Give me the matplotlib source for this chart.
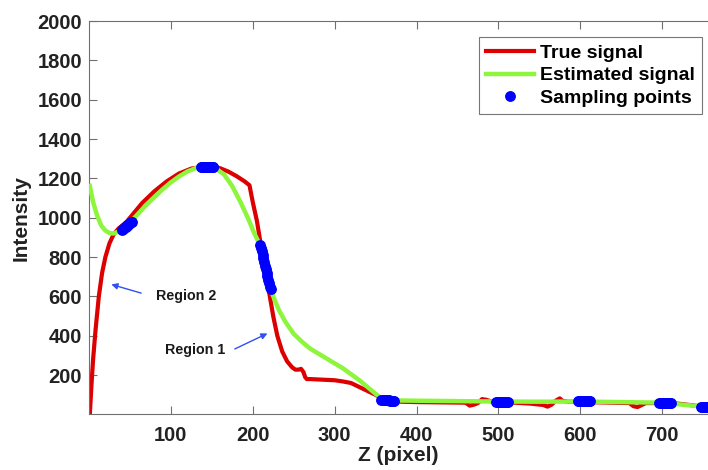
import matplotlib
matplotlib.use("Agg")
import matplotlib.pyplot as plt

# true signal (red)
true_z = [1, 3, 5, 8, 12, 16, 20, 25, 30, 36, 45, 55, 65, 80, 95, 110, 125, 140,
          150, 160, 170, 180, 190, 196, 200, 205, 210, 215, 220, 225, 230, 236,
          242, 248, 252, 256, 259, 262, 264, 266, 270, 280, 290, 300, 310, 320,
          330, 340, 350, 358, 365, 380, 400, 420, 440, 460, 465, 470, 475, 480,
          485, 490, 500, 520, 540, 555, 560, 565, 570, 575, 578, 585, 600, 620,
          640, 660, 665, 670, 675, 680, 700, 720, 740, 756]
true_i = [0, 150, 280, 430, 600, 720, 800, 870, 915, 945, 975, 1025, 1075, 1135,
          1185, 1225, 1250, 1260, 1262, 1252, 1235, 1212, 1185, 1165, 1080, 985,
          860, 740, 620, 500, 400, 320, 270, 240, 228, 228, 232, 215, 190, 180,
          180, 178, 176, 174, 168, 160, 140, 120, 100, 80, 68, 65, 63, 62, 61,
          60, 45, 50, 58, 78, 75, 68, 62, 60, 55, 48, 40, 50, 70, 82, 70, 65, 64,
          62, 60, 58, 42, 38, 48, 58, 58, 55, 45, 38]

# estimated signal (green)
est_z = [1, 5, 10, 15, 20, 25, 30, 35, 40, 50, 60, 70, 80, 90, 100, 110, 120,
         130, 140, 148, 155, 165, 175, 185, 195, 202, 209, 215, 221, 226, 232,
         240, 250, 260, 270, 280, 290, 300, 310, 320, 330, 340, 350, 358, 365,
         400, 450, 500, 550, 600, 650, 700, 720, 740, 756]
est_i = [1162, 1080, 1010, 960, 935, 922, 920, 928, 940, 975, 1020, 1065, 1105,
         1145, 1180, 1210, 1235, 1252, 1260, 1260, 1250, 1220, 1160, 1080, 990,
         920, 860, 755, 645, 590, 530, 470, 410, 370, 335, 310, 285, 260, 235,
         205, 175, 140, 105, 78, 72, 70, 68, 66, 65, 66, 63, 60, 52, 44, 38]

# sampling points (blue)
samp_z = [40, 41, 42, 43, 44, 45, 46, 47, 48, 49, 50, 51, 52,
          137, 138, 140, 142, 143, 145, 146, 148, 149, 151, 152,
          209, 210, 211, 212, 213, 214, 215, 216, 217, 218, 219, 220, 221, 222,
          357, 359, 360, 362, 363, 365, 366, 368, 369, 371, 372,
          497, 499, 500, 502, 503, 505, 506, 508, 509, 511, 512,
          597, 599, 600, 602, 603, 605, 606, 608, 609, 611, 612,
          696, 698, 699, 701, 702, 704, 705, 707, 708, 710, 711,
          747, 749, 750, 752, 753, 755, 756]
samp_i = [938, 942, 945, 949, 952, 955, 958, 962, 965, 969, 972, 976, 980,
          1257, 1258, 1259, 1260, 1260, 1260, 1260, 1259, 1259, 1257, 1256,
          862, 846, 830, 813, 795, 776, 757, 738, 720, 702, 684, 667, 650, 640,
          75, 74, 73, 73, 72, 72, 72, 71, 71, 71, 71,
          66, 66, 66, 66, 65, 65, 65, 65, 65, 65, 65,
          67, 67, 67, 67, 67, 67, 67, 67, 67, 67, 67,
          60, 60, 60, 60, 60, 60, 60, 59, 59, 59, 59,
          40, 40, 39, 39, 38, 38, 38]

xticks = [100, 200, 300, 400, 500, 600, 700]
yticks = [200, 400, 600, 800, 1000, 1200, 1400, 1600, 1800, 2000]

plt.rcParams["font.family"] = ["Liberation Sans", "DejaVu Sans"]
plt.rcParams["font.weight"] = "bold"

fig = plt.figure(figsize=(7.08, 4.70), dpi=100)
ax = fig.add_axes([0.1257, 0.1181, 0.8743, 0.8372])

ax.plot(true_z, true_i, color="#dc0000", lw=3.0, label="True signal", zorder=2)
ax.plot(est_z, est_i, color="#8cf53c", lw=3.2, label="Estimated signal", zorder=3)
ax.plot(samp_z, samp_i, "o", color="#0000ff", ms=6.8, mec="#0000ff",
        label="Sampling points", zorder=4, clip_on=False)

ax.set_xlim(0, 756)
ax.set_ylim(0, 2000)
ax.set_xticks(xticks)
ax.set_yticks(yticks)

for s in ["left", "bottom", "top"]:
    ax.spines[s].set_color("#707070")
    ax.spines[s].set_linewidth(0.8)
ax.spines["right"].set_visible(False)
ax.tick_params(direction="in", length=6, width=0.8, color="#707070",
               top=True, right=False, labelsize=14.5, labelcolor="#222222")
ax.tick_params(axis="x", pad=8)
ax.tick_params(axis="y", pad=5)
for lab in ax.get_xticklabels() + ax.get_yticklabels():
    lab.set_fontweight("bold")

ax.set_xlabel("Z (pixel)", fontsize=15, fontweight="bold", color="#222222", labelpad=1)
ax.set_ylabel("Intensity", fontsize=15, fontweight="bold", color="#222222", labelpad=5)

arrow = dict(arrowstyle="-|>", color="#3050f0", lw=1.0, mutation_scale=9)
ax.annotate("", xy=(24, 665), xytext=(67, 613), arrowprops=arrow)
ax.text(81.5, 601, "Region 2", fontsize=10.3, fontweight="bold", va="center",
        color="#1a1a1a")
ax.annotate("", xy=(221, 418), xytext=(175, 327), arrowprops=arrow)
ax.text(92.5, 327, "Region 1", fontsize=10.3, fontweight="bold", va="center",
        color="#1a1a1a")

leg = ax.legend(loc="upper right", bbox_to_anchor=(0.990, 0.959), fontsize=14,
                frameon=True, fancybox=False, edgecolor="#555555",
                handlelength=2.5, handletextpad=0.3, borderpad=0.35,
                labelspacing=0.27, borderaxespad=0)
leg.get_frame().set_linewidth(0.8)
for t in leg.get_texts():
    t.set_fontweight("bold")

fig.savefig("out.png", dpi=100)
